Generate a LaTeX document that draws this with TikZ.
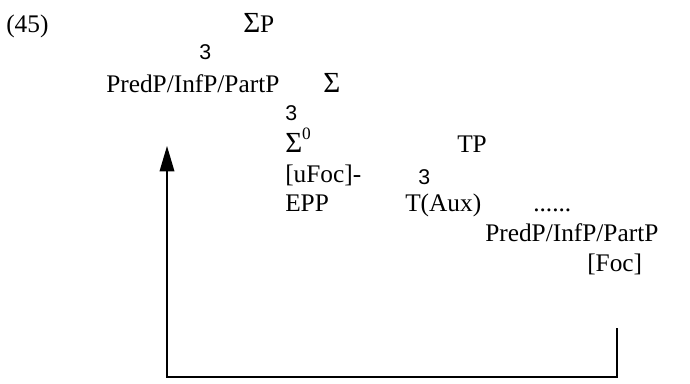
\documentclass[tikz,border=0pt]{standalone}
\usepackage{fontspec}
\setmainfont{Liberation Serif}
\newfontfamily\branchfont{Liberation Sans}
\usetikzlibrary{arrows.meta}
\newcommand{\bigSig}{\scalebox{1.15}{Σ}}
\begin{document}
\begin{tikzpicture}[x=0.75pt,y=-0.75pt,
  lab/.style={anchor=base west,inner sep=0pt,font=\fontsize{19}{21}\selectfont},
  br/.style={anchor=base west,inner sep=0pt,font=\branchfont\fontsize{16}{18}\selectfont},
  mv/.style={line width=1pt}]
\useasboundingbox (0,0) rectangle (690,383);
\node[lab] (ex) at (6,32) {(45)};
\node[lab] (sp) at (243,32) {\bigSig P};
\node[br] (b1) at (199,59) {3};
\node[lab] (pred1) at (106,92) {PredP/InfP/PartP};
\node[lab] (sig) at (323,92) {\bigSig};
\node[br] (b2) at (285,120) {3};
\node[lab] (sig0) at (285,152) {\bigSig\raisebox{0.5em}{\fontsize{13}{14}\selectfont 0}};
\node[lab] (tp) at (457,152) {TP};
\node[lab] (ufoc) at (285,182) {[uFoc]-};
\node[br] (b3) at (418,184) {3};
\node[lab] (epp) at (285,211) {EPP};
\node[lab] (taux) at (405,211) {T(Aux)};
\node[lab] (dots) at (533,211) {......};
\node[lab] (pred2) at (485,241) {PredP/InfP/PartP};
\node[lab] (foc) at (587,271) {[Foc]};
\coordinate (start) at (617,328);
\coordinate (corner) at (167,377);
\coordinate (tip) at (167,146);
\draw[mv,-{Triangle[width=11pt,length=19pt]}] (start) |- (corner) -- (tip);
\end{tikzpicture}
\end{document}
